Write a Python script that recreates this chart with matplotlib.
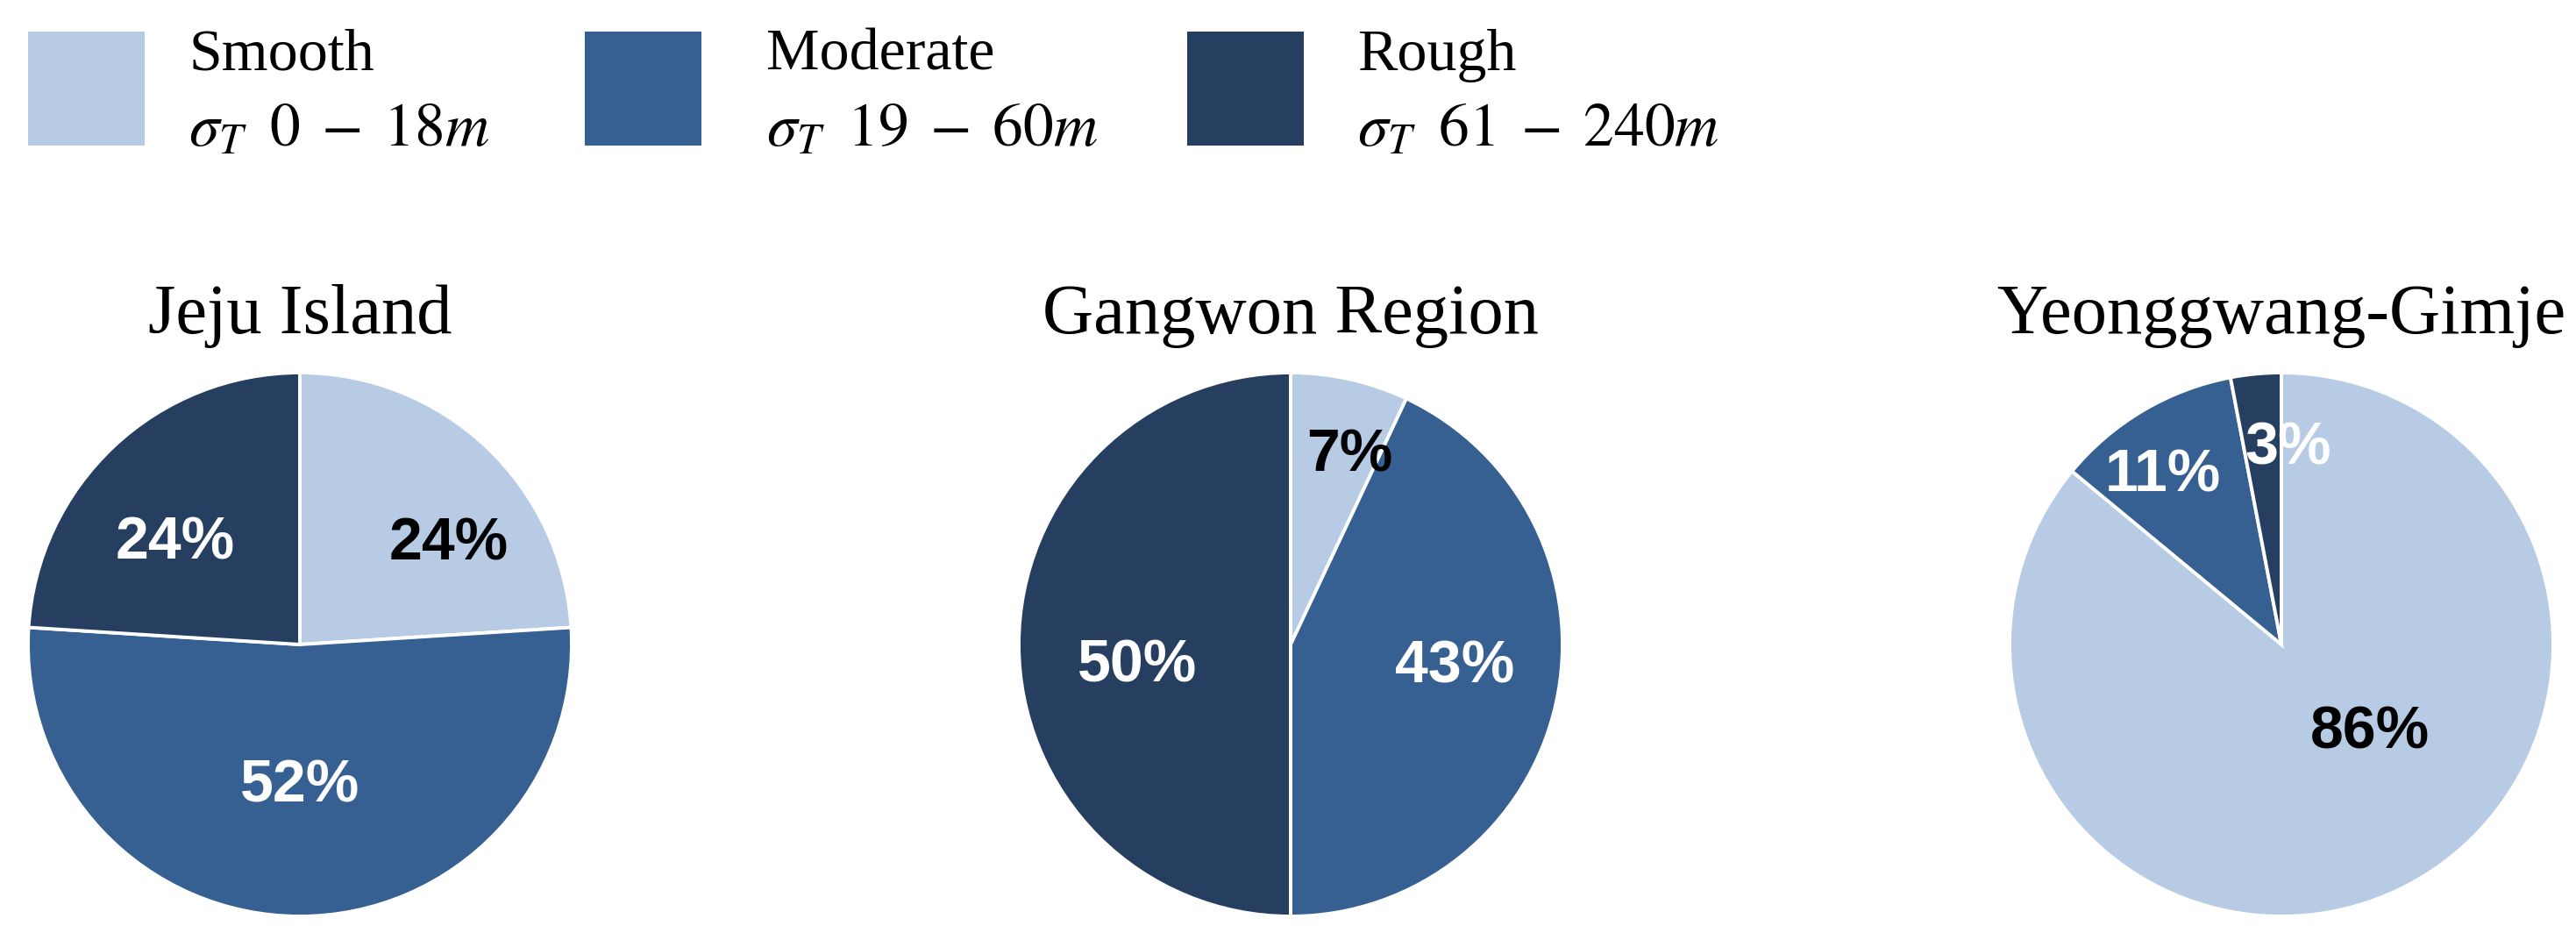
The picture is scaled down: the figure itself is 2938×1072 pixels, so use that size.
import matplotlib
matplotlib.use("Agg")
import matplotlib.pyplot as plt
from matplotlib.patches import Rectangle
import numpy as np

# Datos
categories = ["Smooth", "Moderate", "Rough"]
ranges = [r"$\sigma_T\;\;0\;-\;18m$", r"$\sigma_T\;\;19\;-\;60m$", r"$\sigma_T\;\;61\;-\;240m$"]
regions = ["Jeju Island", "Gangwon Region", "Yeonggwang-Gimje"]
jeju = [24, 52, 24]
gangwon = [7, 43, 50]
yeonggwang = [86, 11, 3]
values = [jeju, gangwon, yeonggwang]

colors = ["#B8CBE4", "#365F92", "#263F60"]
text_colors = ["black", "white", "white"]

# posicion de etiquetas (angulo en grados, radio) por cada pie
label_pos = [
    [(34, 0.66), (-90, 0.52), (141, 0.59)],
    [(72.6, 0.73), (-7.6, 0.61), (188, 0.57)],
    [(-45, 0.46), (125, 0.76), (88, 0.72)],
]

W, H = 2938, 1072
plt.rcParams["mathtext.fontset"] = "stix"
fig = plt.figure(figsize=(W / 100, H / 100), dpi=100)

serif = "Liberation Serif"

# leyenda
legend_x = [32, 667, 1354]
text_x = [215, 874, 1548]
for i in range(3):
    fig.add_artist(Rectangle((legend_x[i] / W, 1 - 166 / H), 133 / W, 130 / H,
                             transform=fig.transFigure, color=colors[i], lw=0))
    fig.text(text_x[i] / W, 1 - 80 / H, categories[i], family=serif, fontsize=49,
             va="baseline", ha="left")
    fig.text(text_x[i] / W, 1 - 166 / H, ranges[i], fontsize=50,
             va="baseline", ha="left")

# pies
centers = [342, 1472, 2602]
cy, R = 735, 310
lim = 1.02
for k in range(3):
    side = 2 * R * lim
    ax = fig.add_axes([(centers[k] - R * lim) / W, (H - cy - R * lim) / H, side / W, side / H])
    ax.pie(values[k], colors=colors, startangle=90, counterclock=False, radius=1,
           wedgeprops=dict(edgecolor="white", linewidth=2.8))
    ax.set_xlim(-lim, lim)
    ax.set_ylim(-lim, lim)
    ax.set_aspect("equal")
    ax.axis("off")
    for j, (ang, r) in enumerate(label_pos[k]):
        a = np.deg2rad(ang)
        ax.text(r * np.cos(a), r * np.sin(a), f"{values[k][j]}%", ha="center", va="center",
                family="Liberation Sans", fontweight="bold", fontsize=49, color=text_colors[j])
    fig.text(centers[k] / W, 1 - 380 / H, regions[k], family=serif, fontsize=58,
             ha="center", va="baseline")

plt.savefig("out.png", dpi=100)
